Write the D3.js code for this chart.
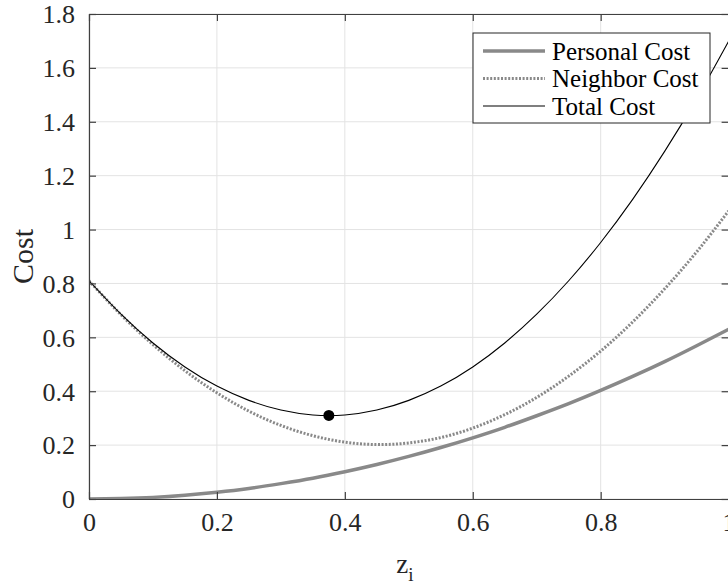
<!DOCTYPE html>
<html>
<head>
<meta charset="utf-8">
<script src="https://cdn.jsdelivr.net/npm/d3@7"></script>
<style>
  body { margin: 0; background: #fff; }
  svg { display: block; }
</style>
</head>
<body>
<div id="chart"></div>
<script>
// Data
let zValues = [0, 0.05, 0.1, 0.15, 0.2, 0.25, 0.3, 0.35, 0.4, 0.45, 0.5,
  0.55, 0.6, 0.65, 0.7, 0.75, 0.8, 0.85, 0.9, 0.95, 1];
let personalCost = [0, 0.002, 0.006, 0.014, 0.025, 0.039, 0.057, 0.077, 0.101, 0.128, 0.158,
  0.191, 0.227, 0.266, 0.309, 0.354, 0.403, 0.455, 0.510, 0.569, 0.630];
let neighborCost = [0.810, 0.684, 0.573, 0.476, 0.394, 0.326, 0.273, 0.235, 0.211, 0.202, 0.208,
  0.228, 0.263, 0.313, 0.377, 0.456, 0.549, 0.657, 0.780, 0.917, 1.069];
let totalCost = [0.810, 0.686, 0.579, 0.490, 0.419, 0.366, 0.330, 0.312, 0.312, 0.330, 0.366,
  0.419, 0.490, 0.579, 0.686, 0.810, 0.952, 1.112, 1.290, 1.486, 1.699];
let minPoint = [0.375, 0.31];
let xTicks = [0, 0.2, 0.4, 0.6, 0.8, 1];
let yTicks = [0, 0.2, 0.4, 0.6, 0.8, 1, 1.2, 1.4, 1.6, 1.8];
let legendLabels = ['Personal Cost', 'Neighbor Cost', 'Total Cost'];

// SVG setup
let svgWidth = 728;
let svgHeight = 585;
let margin = { top: 14, left: 89 };
let width = 639.6;
let height = 485;

let svg = d3.select('#chart').append('svg')
  .attr('width', svgWidth)
  .attr('height', svgHeight);

let x = d3.scaleLinear().domain([0, 1]).range([margin.left, margin.left + width]);
let y = d3.scaleLinear().domain([0, 1.8]).range([margin.top + height, margin.top]);

svg.append('clipPath').attr('id', 'plotClip')
  .append('rect')
  .attr('x', margin.left).attr('y', margin.top)
  .attr('width', width).attr('height', height);

// grid
let grid = svg.append('g').attr('stroke', '#e3e3e3').attr('stroke-width', 1);
grid.selectAll('.gx').data(xTicks).enter().append('line')
  .attr('x1', d => x(d)).attr('x2', d => x(d))
  .attr('y1', margin.top).attr('y2', margin.top + height);
grid.selectAll('.gy').data(yTicks).enter().append('line')
  .attr('x1', margin.left).attr('x2', margin.left + width)
  .attr('y1', d => y(d)).attr('y2', d => y(d));

// lines
let plot = svg.append('g').attr('clip-path', 'url(#plotClip)');
function makeLine(values) {
  return d3.line()
    .x((d, i) => x(zValues[i]))
    .y(d => y(d))
    .curve(d3.curveNatural)(values);
}

plot.append('path')
  .attr('d', makeLine(personalCost))
  .attr('fill', 'none')
  .attr('stroke', '#898989')
  .attr('stroke-width', 3.5);

plot.append('path')
  .attr('d', makeLine(neighborCost))
  .attr('fill', 'none')
  .attr('stroke', '#898989')
  .attr('stroke-width', 3)
  .attr('stroke-dasharray', '2,1.6');

plot.append('path')
  .attr('d', makeLine(totalCost))
  .attr('fill', 'none')
  .attr('stroke', '#000')
  .attr('stroke-width', 1.1);

plot.append('circle')
  .attr('cx', x(minPoint[0]))
  .attr('cy', y(minPoint[1]))
  .attr('r', 5.5)
  .attr('fill', '#000');

// axes (ticks inward on all four sides)
let bottomAxis = d3.axisBottom(x).tickValues(xTicks).tickSizeInner(-7).tickSizeOuter(0)
  .tickPadding(14).tickFormat(d3.format('~g'));
let topAxis = d3.axisTop(x).tickValues(xTicks).tickSizeInner(-7).tickSizeOuter(0).tickFormat('');
let leftAxis = d3.axisLeft(y).tickValues(yTicks).tickSizeInner(-7).tickSizeOuter(0)
  .tickPadding(14).tickFormat(d3.format('~g'));
let rightAxis = d3.axisRight(y).tickValues(yTicks).tickSizeInner(-7).tickSizeOuter(0).tickFormat('');

function styleAxis(g) {
  g.selectAll('.domain').attr('stroke', '#404040').attr('stroke-width', 1.2);
  g.selectAll('.tick line').attr('stroke', '#404040').attr('stroke-width', 1.2);
}

svg.append('g').attr('transform', `translate(0, ${margin.top + height})`).call(bottomAxis).call(styleAxis)
  .selectAll('text').attr('dy', '0.71em');
svg.append('g').attr('transform', `translate(0, ${margin.top})`).call(topAxis).call(styleAxis);
svg.append('g').attr('transform', `translate(${margin.left}, 0)`).call(leftAxis).call(styleAxis)
  .selectAll('text').attr('dy', '0.34em');
svg.append('g').attr('transform', `translate(${margin.left + width}, 0)`).call(rightAxis).call(styleAxis);

svg.selectAll('.tick text').attr('font-family', 'Liberation Serif').attr('font-size', 26).attr('fill', '#262626');

// axis labels
svg.append('text')
  .attr('transform', `translate(33, ${margin.top + height / 2}) rotate(-90)`)
  .attr('text-anchor', 'middle')
  .attr('font-family', 'Liberation Serif')
  .attr('font-size', 30)
  .attr('fill', '#262626')
  .text('Cost');

let xLabel = svg.append('text')
  .attr('x', margin.left + width / 2 - 4)
  .attr('y', 573)
  .attr('text-anchor', 'middle')
  .attr('font-family', 'Liberation Serif')
  .attr('font-size', 27)
  .attr('fill', '#262626');
xLabel.append('tspan').text('z');
xLabel.append('tspan').attr('font-size', 19).attr('dy', 8).text('i');

// legend
let legend = svg.append('g').attr('transform', 'translate(473, 33)');
legend.append('rect')
  .attr('width', 237).attr('height', 90)
  .attr('fill', '#fff')
  .attr('stroke', '#262626')
  .attr('stroke-width', 1);

let legendStyles = [
  { stroke: '#898989', width: 3.5, dash: null },
  { stroke: '#898989', width: 3, dash: '2,1.6' },
  { stroke: '#000', width: 1.1, dash: null }
];

let rows = legend.selectAll('.row').data(legendLabels).enter().append('g')
  .attr('transform', (d, i) => `translate(0, ${18 + i * 27.5})`);

rows.append('line')
  .attr('x1', 10).attr('x2', 72)
  .attr('stroke', (d, i) => legendStyles[i].stroke)
  .attr('stroke-width', (d, i) => legendStyles[i].width)
  .attr('stroke-dasharray', (d, i) => legendStyles[i].dash);

rows.append('text')
  .attr('x', 79)
  .attr('dy', '0.34em')
  .attr('font-family', 'Liberation Serif')
  .attr('font-size', 25)
  .attr('fill', '#000')
  .text(d => d);
</script>
</body>
</html>
